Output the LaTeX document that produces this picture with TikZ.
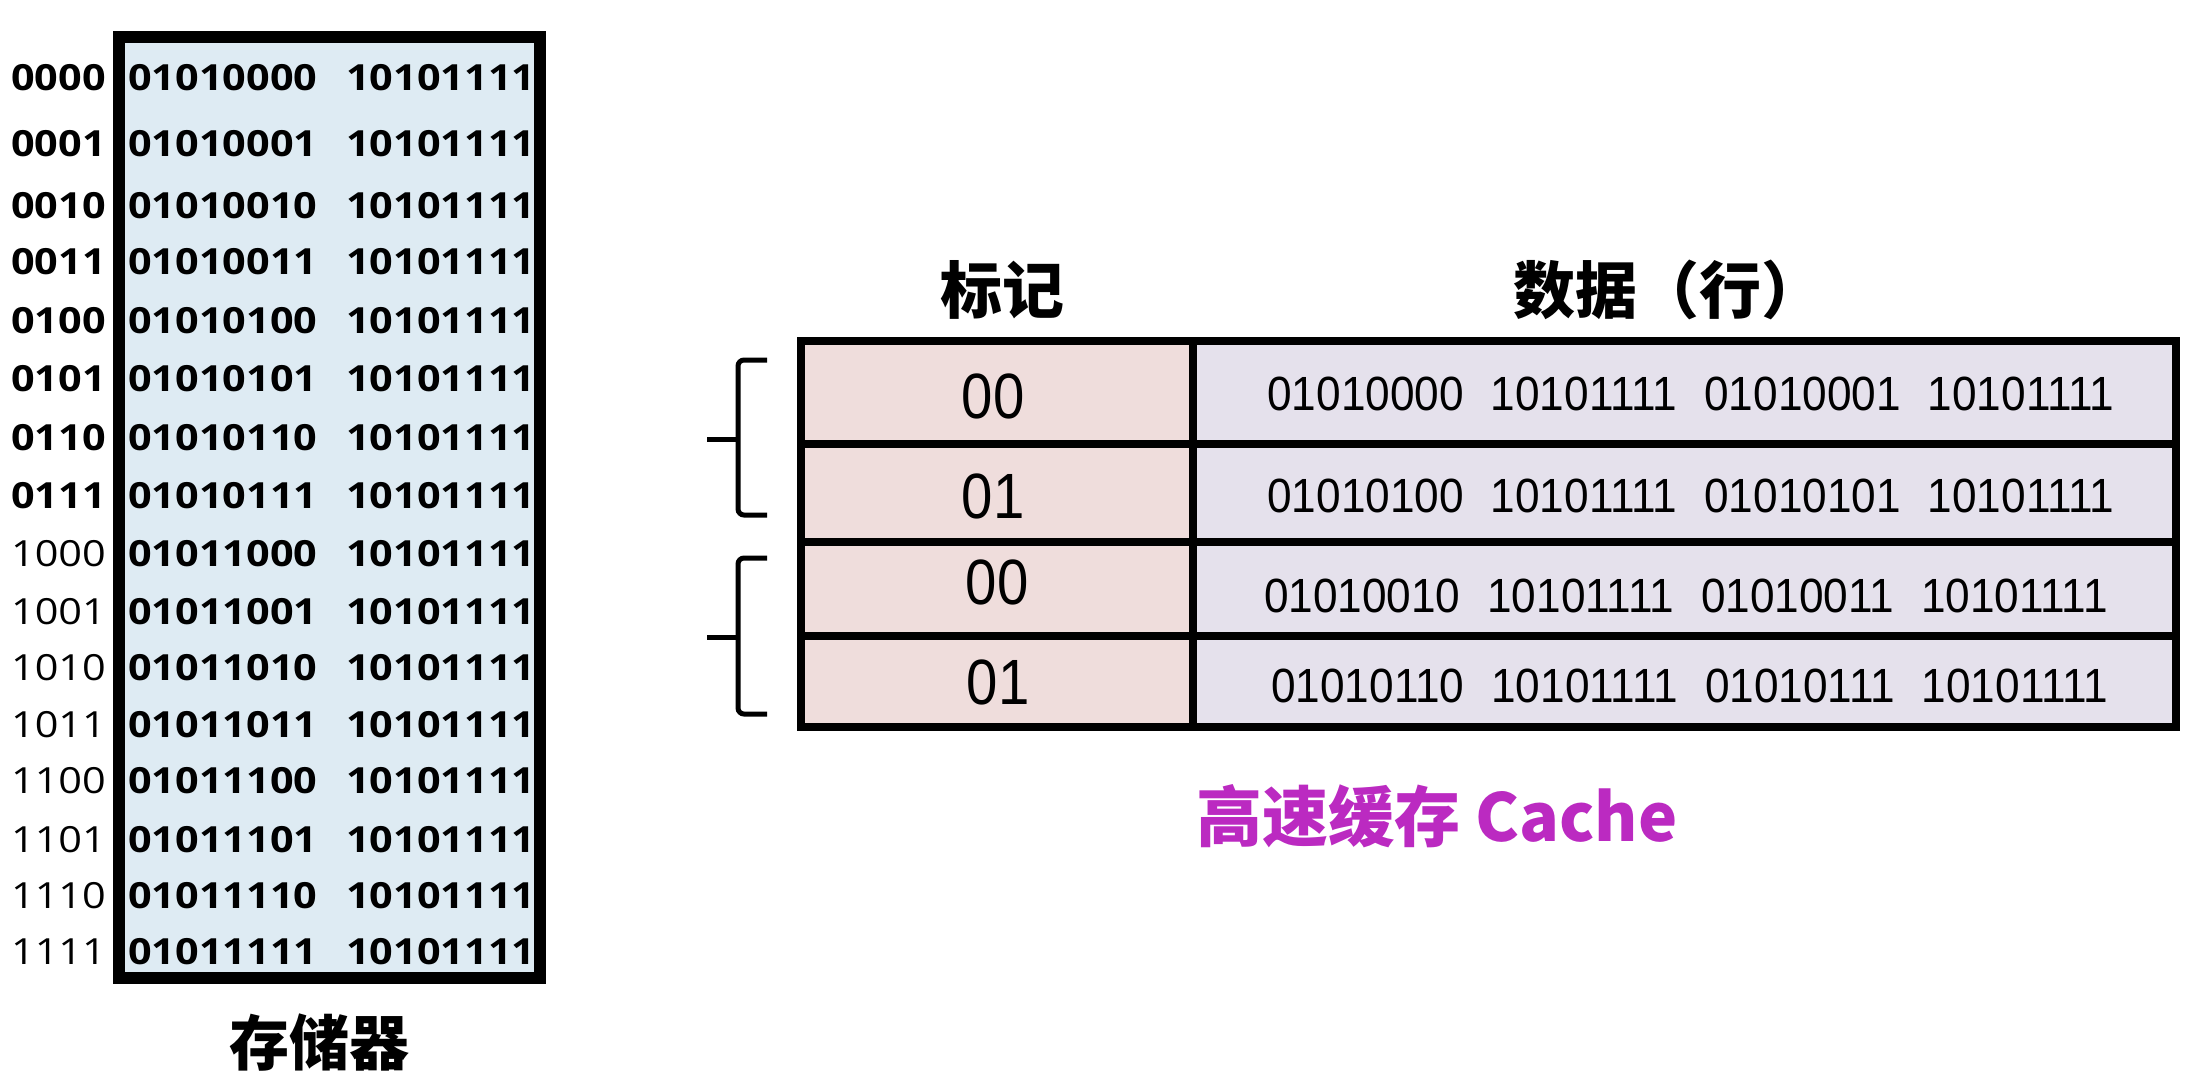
\documentclass[tikz,border=0pt]{standalone}
\usepackage{fontspec}
\setmainfont{Liberation Sans}
\newfontfamily\cjk{Noto Sans CJK SC}
\newfontfamily\memfont[FakeStretch=1.15]{Open Sans}
\newfontfamily\rowfont[FakeStretch=0.92]{Liberation Sans}
\newfontfamily\tagfont[FakeStretch=0.88]{Liberation Sans}
\definecolor{memblue}{RGB}{222,235,243}
\definecolor{tagpink}{RGB}{239,221,220}
\definecolor{rowlilac}{RGB}{229,225,236}
\definecolor{cachepurple}{RGB}{187,42,193}

\begin{document}
\begin{tikzpicture}[x=1pt, y=-1pt,
    addr/.style={anchor=east, inner sep=0pt, font=\memfont\fontsize{36}{36}\selectfont},
    word/.style={anchor=west, inner sep=0pt, font=\memfont\bfseries\fontsize{36}{36}\selectfont},
    tagtext/.style={inner sep=0pt, font=\tagfont\fontsize{64}{64}\selectfont},
    rowtext/.style={inner sep=0pt, font=\rowfont\fontsize{48}{48}\selectfont},
    heading/.style={inner sep=0pt, font=\cjk\bfseries\fontsize{62}{62}\selectfont}]
    \useasboundingbox (0,0) rectangle (2196,1080);

    % memory
    \draw [line width=12, fill=memblue] (119,37) rectangle (540,978);
    \foreach \a/\w/\y in {0000/01010000/78, 0001/01010001/144, 0010/01010010/206, 0011/01010011/262,
                          0100/01010100/321, 0101/01010101/379, 0110/01010110/438, 0111/01010111/496} {
        \node (a\a) at (106,\y) [addr, font=\memfont\bfseries\fontsize{36}{36}\selectfont] {\a};
        \node (w\a) at (128,\y) [word] {\w};
        \node (v\a) at (346,\y) [word] {10101111};
    }
    \foreach \a/\w/\y in {1000/01011000/554, 1001/01011001/612, 1010/01011010/668, 1011/01011011/725,
                          1100/01011100/781, 1101/01011101/840, 1110/01011110/896, 1111/01011111/952} {
        \node (a\a) at (106,\y) [addr] {\a};
        \node (w\a) at (128,\y) [word] {\w};
        \node (v\a) at (346,\y) [word] {10101111};
    }
    \node (mem) at (319,1043) [heading, font=\cjk\bfseries\fontsize{60}{60}\selectfont] {存储器};

    % cache
    \fill [tagpink] (801,341) rectangle (1193,727);
    \fill [rowlilac] (1193,341) rectangle (2176,727);
    \draw [line width=8] (801,341) rectangle (2176,727);
    \draw [line width=8] (1193,341) -- (1193,727);
    \foreach \y in {444,542,636}
        \draw [line width=8] (801,\y) -- (2176,\y);
    \node (taghead) at (1002,290) [heading] {标记};
    \node (rowhead) at (1668,290) [heading] {数据（行）};

    \node (tag0) at (993,396) [tagtext] {00};
    \node (tag1) at (993,496) [tagtext] {01};
    \node (tag2) at (997,582) [tagtext] {00};
    \node (tag3) at (998,682) [tagtext] {01};
    \node (row0) at (1691,394) [rowtext] {01010000\hspace{27pt}10101111\hspace{27pt}01010001\hspace{27pt}10101111};
    \node (row1) at (1691,496) [rowtext] {01010100\hspace{27pt}10101111\hspace{27pt}01010101\hspace{27pt}10101111};
    \node (row2) at (1686,596) [rowtext] {01010010\hspace{27pt}10101111\hspace{27pt}01010011\hspace{27pt}10101111};
    \node (row3) at (1690,686) [rowtext] {01010110\hspace{27pt}10101111\hspace{27pt}01010111\hspace{27pt}10101111};

    % set brackets
    \draw [line width=5, rounded corners=6] (767,360) -- (738,360) -- (738,515) -- (767,515);
    \draw [line width=5] (738,439) -- (707,439);
    \draw [line width=5, rounded corners=6] (767,558) -- (738,558) -- (738,714) -- (767,714);
    \draw [line width=5] (738,637) -- (707,637);

    \node (cache) at (1437,816) [heading, font=\cjk\bfseries\fontsize{66}{66}\selectfont, text=cachepurple] {高速缓存 Cache};
\end{tikzpicture}
\end{document}
